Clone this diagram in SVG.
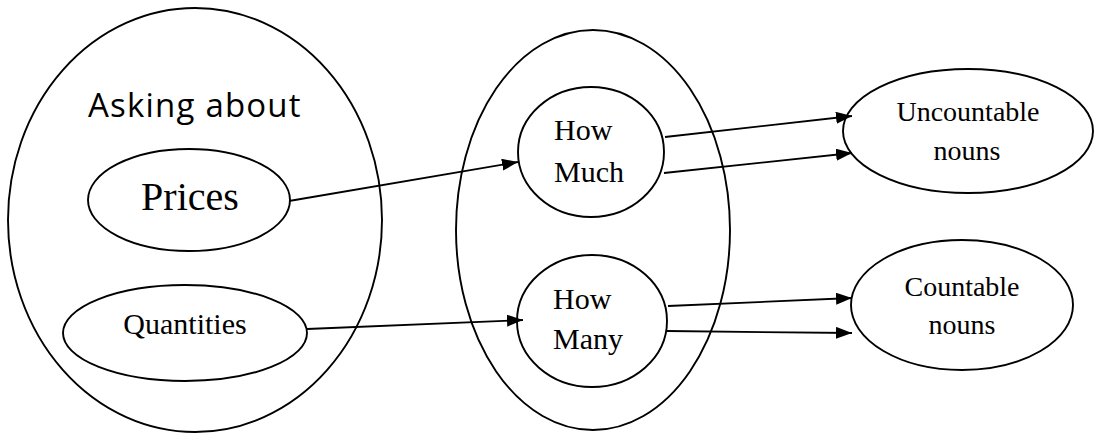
<svg xmlns="http://www.w3.org/2000/svg" width="1100" height="436" viewBox="0 0 1100 436">
<style>
.e{fill:none;stroke:#000;stroke-width:1.9}
.s{font-family:"Liberation Serif","Times New Roman",serif;fill:#000}
.c line{stroke:#000;stroke-width:1.8}
</style>
<defs>
<marker id="ah" markerUnits="userSpaceOnUse" markerWidth="18" markerHeight="14" refX="16" refY="6" orient="auto">
<path d="M0,0 L16,6 L0,12 Z" fill="#000"/>
</marker>
</defs>
<rect width="1100" height="436" fill="#fff"/>
<g id="asking">
<ellipse class="e" cx="195" cy="220" rx="187" ry="212"/>
<text x="88" y="117" font-family="'Open Sans','Liberation Sans',sans-serif" font-size="33" letter-spacing="1.2" fill="#000">Asking about</text>
</g>
<g id="prices">
<ellipse class="e" cx="189" cy="200" rx="101" ry="51"/>
<text class="s" x="190" y="210" font-size="40" text-anchor="middle">Prices</text>
</g>
<g id="quantities">
<ellipse class="e" cx="185" cy="333" rx="122" ry="48"/>
<text class="s" x="185" y="334" font-size="30" text-anchor="middle">Quantities</text>
</g>
<g id="how-group">
<ellipse class="e" cx="593" cy="230" rx="137" ry="200"/>
</g>
<g id="howmuch">
<ellipse class="e" cx="591" cy="152" rx="73" ry="65"/>
<text class="s" font-size="30"><tspan x="554" y="140">How</tspan><tspan x="554" y="182">Much</tspan></text>
</g>
<g id="howmany">
<ellipse class="e" cx="592" cy="321" rx="75" ry="66"/>
<text class="s" font-size="30"><tspan x="553" y="309">How</tspan><tspan x="553" y="349">Many</tspan></text>
</g>
<g id="uncountable">
<ellipse class="e" cx="968" cy="131" rx="125" ry="62"/>
<text class="s" font-size="28" text-anchor="middle"><tspan x="968" y="121">Uncountable</tspan><tspan x="967" y="160">nouns</tspan></text>
</g>
<g id="countable">
<ellipse class="e" cx="962" cy="305" rx="111" ry="65"/>
<text class="s" font-size="28" text-anchor="middle"><tspan x="962" y="296">Countable</tspan><tspan x="962" y="334">nouns</tspan></text>
</g>
<g id="connectors" class="c">
<line x1="289" y1="201" x2="518" y2="162" marker-end="url(#ah)"/>
<line x1="307" y1="329" x2="523" y2="320" marker-end="url(#ah)"/>
<line x1="665" y1="137" x2="852" y2="116" marker-end="url(#ah)"/>
<line x1="664" y1="173" x2="852" y2="153" marker-end="url(#ah)"/>
<line x1="668" y1="306" x2="852" y2="298" marker-end="url(#ah)"/>
<line x1="667" y1="331" x2="852" y2="333" marker-end="url(#ah)"/>
</g>
</svg>
